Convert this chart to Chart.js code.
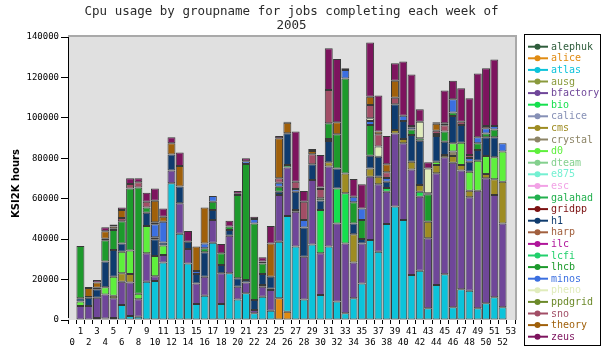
<!DOCTYPE html>
<html>
<head>
<meta charset="utf-8">
<script src="https://cdn.jsdelivr.net/npm/chart.js@4/dist/chart.umd.min.js"></script>
<style>
  html, body { margin: 0; padding: 0; background: #ffffff; }
  #wrap { width: 601px; height: 349px; }
</style>
</head>
<body>
<div id="wrap"><canvas id="cpu" width="601" height="349"></canvas></div>
<script>
// Week numbers along the x axis
const weeks = [0, 1, 2, 3, 4, 5, 6, 7, 8, 9, 10, 11, 12, 13, 14, 15, 16, 17, 18, 19,
  20, 21, 22, 23, 24, 25, 26, 27, 28, 29, 30, 31, 32, 33, 34, 35, 36, 37, 38, 39,
  40, 41, 42, 43, 44, 45, 46, 47, 48, 49, 50, 51, 52, 53];

// y axis tick values (KSI2K hours)
const yTicks = [0, 20000, 40000, 60000, 80000, 100000, 120000, 140000];

// Group names, in stacking / legend order
const groups = ['alephuk', 'alice', 'atlas', 'ausg', 'bfactory', 'bio', 'calice', 'cms',
  'crystal', 'd0', 'dteam', 'e875', 'esc', 'galahad', 'gridpp', 'h1', 'harp', 'ilc',
  'lcfi', 'lhcb', 'minos', 'pheno', 'ppdgrid', 'sno', 'theory', 'zeus'];

// CPU usage per group for each week 0..53 (KSI2K hours)
const alephuk = [0,0,0,0,0,0,0,0,0,0, 0,0,0,0,0,0,0,0,0,0, 0,0,0,0,0,0,0,0,0,0, 0,0,0,0,0,0,0,0,0,0, 0,0,0,0,0,0,0,0,0,0, 0,0,0,0];
const alice = [0,0,0,0,0,0,0,0,0,0, 0,0,0,0,0,0,0,0,0,0, 0,0,0,0,0,10700,4100,0,0,0, 0,0,0,0,0,0,0,0,0,0, 0,0,0,0,0,0,0,0,0,0, 0,0,0,0];
const atlas = [0, 0, 0, 1000, 800, 1000, 7400, 2000, 1600, 18900,
  19300, 28400, 67700, 42700, 28000, 7900, 12000, 38200, 7900, 23100,
  10200, 13200, 3300, 11500, 4600, 28000, 47300, 36300, 10200, 37400,
  12400, 36300, 9100, 3300, 10700, 18100, 39600, 33800, 47500, 56100,
  49500, 22300, 24400, 5800, 17300, 22600, 6300, 15200, 14500, 5800,
  8300, 11200, 6300, 0];
const ausg = [0,0,0,0,0,0,0,0,0,0, 0,0,0,0,0,0,0,0,0,0, 0,0,0,0,0,0,0,0,0,0, 0,0,0,0,0,0,0,0,0,0, 0,0,0,0,0,0,0,0,0,0, 0,0,0,0];
const bfactory = [0, 6900, 6900, 10000, 11800, 9700, 11500, 16500, 8700, 14100,
  2400, 3800, 6200, 15000, 7100, 10200, 9400, 11300, 15200, 18600,
  6300, 5300, 1600, 5000, 10200, 23100, 24100, 17300, 21100, 31900,
  20600, 39600, 38700, 34600, 17800, 19800, 31300, 33300, 16000, 36200,
  38000, 52200, 36600, 34600, 55300, 57900, 71500, 58700, 46200, 58200,
  61800, 50600, 41500, 0];
const bio = [0,0,0,0,0,0,0,0,0,0, 0,0,0,0,0,0,0,0,0,0, 0,0,0,0,0,0,0,0,0,0,
  21400, 0, 17300, 24800, 0, 0, 0, 0, 1800, 0,
  0, 0, 2500, 0, 0, 0, 0, 0, 0, 0, 0,0,0,0];
const calice = [0,0,0,0,0,0,0,0,0,0, 0,0,0,0,0,0,0,0,0,0, 0,0,0,0,0,0,0,0,0,0, 0,0,0,0,0,0,0,0,0,0, 0,0,0,0,0,0,0,0,0,0, 0,0,0,0];
const cms = [0, 0, 0, 0, 0, 1300, 4200, 4200, 0, 0,
  0,0,0,0,0,0,0,0,0,0, 0,0,0,0,0,0,0,0,0,0,
  0, 2100, 0, 9800, 13900, 0, 4100, 3800, 0, 1700,
  2000, 3800, 3300, 8200, 4100, 1100, 3300, 2800, 3300, 0,
  2100, 7800, 20600, 0];
const crystal = [0,0,0,0,0,0,0,0,0,0, 0,0,0,0,0,0,0,0,0,0, 0,0,0,0,0,0,0,0,0,0, 0,0,0,0,0,0,0,0,0,0,
  0, 0, 0, 0, 0, 0, 2200, 0, 0, 0, 0,0,0,0];
const d0 = [0, 2300, 0, 0, 3600, 9400, 10700, 11700, 2700, 13500,
  10000, 4600, 0, 0, 0, 0, 0, 0, 0, 0,
  0, 0, 0, 800, 0, 0, 0, 0, 0, 0,
  0,0,0,0,0,0,0,0,0,0,
  0, 0, 0, 0, 1600, 0, 4100, 11000, 9400, 14800,
  8900, 10900, 14900, 0];
const dteam = [0,0,0,0,0,0,0,0,0,0, 0,0,0,0,0,0,0,0,0,0, 0,0,0,0,0,0,0,0,0,0, 0,0,0,0,0,0,0,0,0,0, 0,0,0,0,0,0,0,0,0,0, 0,0,0,0];
const e875 = [0,0,0,0,0,0,0,0,0,0, 0,0,0,0,0,0,0,0,0,0, 0,0,0,0,0,0,0,0,0,0, 0,0,0,0,0,0,0,0,0,0, 0,0,0,0,0,0,0,0,0,0, 0,0,0,0];
const esc = [0,0,0,0,0,0,0,0,0,0, 0,0,0,0,0,0,0,0,0,0, 0,0,0,0,0,0,0,0,0,0, 0,0,0,0,0,0,0,0,0,0, 0,0,0,0,0,0,0,0,0,0, 0,0,0,0];
const galahad = [0,0,0,0,0,0,0,0,0,0, 0,0,0,0,0,0,0,0,0,0,
  0, 0, 0, 0, 600, 0, 1200, 800, 0, 0,
  0,0,0,0,0,0,0,0,0,0, 0,0,0,0,0,0,0,0,0,0, 0,0,0,0];
const gridpp = [0,0,0,0,0,0,0,0,0,0, 0,0,0,0,0,0,0,0,0,0, 0,0,0,0,0,0,0,0,0,0, 0,0,0,0,0,0,0,0,0,0, 0,0,0,0,0,0,0,0,0,0, 0,0,0,0];
const h1 = [0, 1500, 4100, 4200, 12700, 13200, 4100, 0, 0, 6600,
  8200, 1600, 8000, 8300, 3600, 4700, 12100, 4900, 4100, 2800,
  4100, 1300, 5000, 5500, 6000, 1700, 15700, 9100, 14400, 7700,
  4700, 10500, 9900, 0, 5400, 2200, 6300, 9900, 3100, 12700,
  9000, 13200, 21900, 0, 12700, 6600, 13500, 8800, 4900, 5300,
  9300, 9900, 0, 0];
const harp = [0,0,0,0,0,0,0,0,0,0, 1000,0,0,0,0,0,0,0,0,0, 0,0,0,0,0,0,0,0,0,0,
  0, 1000, 0,0,0,0,0,0,0,0, 0,0,0,0,0,0,0,0,0,0, 0,0,0,0];
const ilc = [0,0,0,0,0,0,0,0,0,0, 0,0,0,0,0,0,0,0,0,0, 0,0,0,0,0,0,0,0,0,0, 0,0,0,0,0,0,0,0,0,0, 0,0,0,0,0,0,0,0,0,0, 0,0,0,0];
const lcfi = [0,0,0,0,0,0,0,0,0,0, 0,0,0,0,0,0,0,0,0,0, 0,0,0,0,0,0,0,0,0,0, 0,0,0,0,0,0,0,0,0,0, 0,0,0,0,0,0,0,0,0,0, 0,0,0,0];
const lhcb = [0, 25900, 0, 0, 10600, 9900, 10900, 30600, 52600, 2600,
  0, 0, 0, 0, 0, 0, 2000, 4100, 5800, 1700,
  41200, 57400, 37900, 5200, 0, 2400, 0, 0, 0, 0,
  1100, 7800, 16900, 47000, 10400, 9400, 15200, 0, 0, 0,
  0, 2800, 1200, 13600, 0, 5000, 1700, 0, 0, 3300,
  1900, 3900, 0, 0];
const minos = [0,0,0,0,0,0,0,0,0,0,
  6500, 10200, 0, 0, 0, 1400, 2400, 2800, 0, 0,
  0, 1300, 2200, 1000, 0, 2000, 0, 1300, 3800, 0,
  0, 0, 0, 4200, 2800, 5700, 1900, 0, 1800, 0,
  2500, 1000, 0, 500, 1000, 0, 6600, 0, 1800, 3000,
  2500, 1700, 4100, 0];
const pheno = [0,0,0,0,0,0,0,0,0,0, 0,0,0,0,0,0,0,0,0,0, 0,0,0,0,0,0,0,0,0,0,
  0, 0, 0, 0, 0, 0, 1400, 5000, 0, 0,
  0, 700, 8200, 12300, 0, 0, 0, 0, 0, 0, 0,0,0,0];
const ppdgrid = [0,0,0,0,0,0,0,0,0,0, 0,0,0,0,0,0,0,0,0,0, 0,0,0,0,0,0,0,0,0,0, 0,0,0,0,0,0,0,0,0,0, 0,0,0,0,0,0,0,0,0,0, 0,0,0,0];
const sno = [0, 0, 400, 700, 700, 600, 1700, 2300, 2500, 2800,
  900, 0, 0, 0, 0, 0, 0, 0, 0, 0,
  700, 0, 0, 0, 0, 2200, 0, 3600, 9000, 5000,
  4600, 16500, 0, 0, 0, 0, 6600, 6100, 2900, 3300,
  0, 0, 0, 0, 1600, 3100, 0, 1600, 1500, 0,
  1200, 0, 0, 0];
const theory = [0, 0, 4400, 2700, 3700, 1200, 3900, 0, 0, 0,
  10700, 2500, 5500, 10200, 0, 12100, 17700, 0, 0, 0,
  0, 0, 0, 0, 16500, 19800, 5200, 0, 0, 1600,
  800, 0, 5900, 0, 0, 0, 4100, 1300, 3900, 8400,
  0, 0, 0, 0, 3500, 1000, 0, 0, 0, 0,
  0, 0, 0, 0];
const zeus = [0, 0, 500, 1200, 2000, 1000, 1300, 2800, 2000, 4500,
  6100, 4100, 3000, 6700, 5300, 0, 0, 0, 4600, 2900,
  1300, 1500, 1100, 2000, 8600, 1100, 500, 24800, 5300, 1000,
  16000, 20600, 31300, 800, 8800, 11900, 26800, 17800, 14000, 8600,
  26900, 25500, 6100, 3000, 700, 16200, 9200, 16500, 28100, 31600,
  28500, 32900, 0, 0];

const usage = { alephuk, alice, atlas, ausg, bfactory, bio, calice, cms, crystal, d0,
  dteam, e875, esc, galahad, gridpp, h1, harp, ilc, lcfi, lhcb, minos, pheno, ppdgrid,
  sno, theory, zeus };

// One colour per group
const palette = {
  alephuk: '#2f5d3c', alice: '#e08b12', atlas: '#0cc3da', ausg: '#8a9a3c',
  bfactory: '#6f4699', bio: '#16e04e', calice: '#8690b6', cms: '#9e8c22',
  crystal: '#8c8466', d0: '#5ef03c', dteam: '#84d08e', e875: '#74f0d2',
  esc: '#f2a2e6', galahad: '#22b04e', gridpp: '#7c1212', h1: '#0f3b6e',
  harp: '#a2603e', ilc: '#b0169a', lcfi: '#22d06c', lhcb: '#1d9a2c',
  minos: '#3b6fe0', pheno: '#e0ecbc', ppdgrid: '#6c8a2a', sno: '#a24e66',
  theory: '#a0600a', zeus: '#7d145e'
};

const MONO = "'DejaVu Sans Mono', monospace";

const datasets = groups.map(g => ({
  label: g,
  data: usage[g].map(v => (v === 0 ? null : v)),
  backgroundColor: palette[g],
  borderColor: 'rgba(0,0,0,0.75)',
  borderWidth: 1,
  borderSkipped: false,
  categoryPercentage: 1.0,
  barPercentage: 0.96,
  stack: 'cpu'
}));

// Grey plot background with its frame, and the y axis line
const plotFrame = {
  id: 'plotFrame',
  beforeDatasetsDraw(chart) {
    const { ctx, chartArea: a } = chart;
    ctx.save();
    ctx.fillStyle = '#e0e0e0';
    ctx.fillRect(a.left, a.top - 1, a.right - a.left + 1, a.bottom - a.top + 1);
    ctx.strokeStyle = '#a9a9a9';
    ctx.lineWidth = 2;
    ctx.beginPath();
    ctx.moveTo(a.left, a.top - 1);
    ctx.lineTo(a.right + 1, a.top - 1);
    ctx.lineTo(a.right + 1, a.bottom);
    ctx.stroke();
    ctx.restore();
  },
  afterDatasetsDraw(chart) {
    const { ctx, chartArea: a } = chart;
    ctx.save();
    ctx.strokeStyle = '#000';
    ctx.lineWidth = 1;
    ctx.beginPath();
    ctx.moveTo(a.left + 0.5, a.top);
    ctx.lineTo(a.left + 0.5, a.bottom - 2);
    ctx.stroke();
    ctx.restore();
  }
};

// Title, y axis title and the legend box
const annotations = {
  id: 'annotations',
  afterDraw(chart) {
    const { ctx, chartArea: a } = chart;
    ctx.save();
    const cx = (a.left + a.right) / 2;
    ctx.fillStyle = '#2a2a2a';
    ctx.font = "12.5px " + MONO;
    ctx.textAlign = 'center';
    ctx.textBaseline = 'middle';
    ctx.fillText('Cpu usage by groupname for jobs completing each week of', cx, 12);
    ctx.fillText('2005', cx, 26);

    ctx.save();
    ctx.translate(16, (a.top + a.bottom) / 2 + 5);
    ctx.rotate(-Math.PI / 2);
    ctx.font = "bold 10px 'DejaVu Sans', sans-serif";
    ctx.fillStyle = '#000';
    ctx.fillText('KSI2K hours', 0, 0);
    ctx.restore();

    // legend
    ctx.strokeStyle = '#000';
    ctx.lineWidth = 1;
    ctx.fillStyle = '#fff';
    ctx.fillRect(524.5, 34.5, 76, 311);
    ctx.strokeRect(524.5, 34.5, 76, 311);
    ctx.font = "10px " + MONO;
    ctx.textAlign = 'left';
    groups.forEach((g, i) => {
      const y = 46.7 + i * 11.6;
      const c = palette[g];
      ctx.strokeStyle = c;
      ctx.lineWidth = 2;
      ctx.beginPath();
      ctx.moveTo(528, y);
      ctx.lineTo(548, y);
      ctx.stroke();
      ctx.fillStyle = c;
      ctx.beginPath();
      ctx.arc(537.5, y, 3, 0, Math.PI * 2);
      ctx.fill();
      ctx.fillText(g, 551, y + 0.5);
    });
    ctx.restore();
  }
};

new Chart(document.getElementById('cpu'), {
  type: 'bar',
  data: { labels: weeks.map(String), datasets },
  plugins: [plotFrame, annotations],
  options: {
    responsive: false,
    devicePixelRatio: 1,
    animation: false,
    layout: { padding: { top: 37, right: 86, bottom: 0, left: 0 } },
    plugins: { legend: { display: false }, tooltip: { enabled: false }, title: { display: false } },
    scales: {
      x: {
        stacked: true,
        afterFit(s) { s.height = 29; },
        grid: { display: true, drawOnChartArea: false, tickLength: 4, color: '#000', offset: true },
        border: { display: false },
        ticks: {
          autoSkip: false, maxRotation: 0, minRotation: 0, padding: 2,
          color: '#000',
          font: { family: MONO, size: 9, lineHeight: 1.22 },
          callback(val, idx) {
            const t = String(weeks[idx]);
            return idx % 2 === 1 ? [t, ''] : ['', t];
          }
        }
      },
      y: {
        stacked: true,
        min: yTicks[0],
        max: yTicks[yTicks.length - 1],
        afterFit(s) { s.width = 68; },
        afterBuildTicks(s) { s.ticks = yTicks.map(v => ({ value: v })); },
        grid: { display: true, drawOnChartArea: false, tickLength: 7, color: '#000' },
        border: { display: false },
        ticks: {
          padding: 2, color: '#000',
          font: { family: MONO, size: 9 },
          callback: v => String(v)
        }
      }
    }
  }
});
</script>
</body>
</html>
